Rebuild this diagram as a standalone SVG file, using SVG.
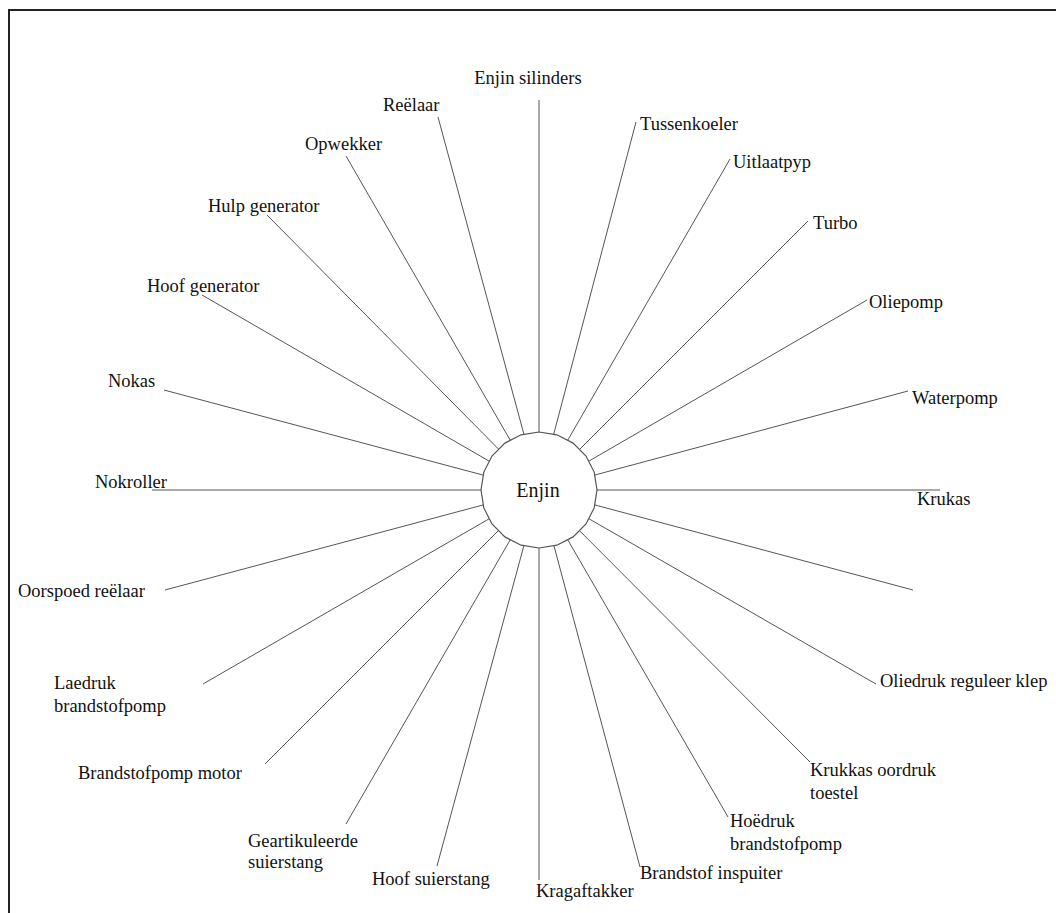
<svg xmlns="http://www.w3.org/2000/svg" width="1056" height="913" viewBox="0 0 1056 913">
  <style>
    .lbl { font-family: "Liberation Serif", "Times New Roman", serif; font-size: 18.5px; fill: #111; }
    .hub-lbl { font-family: "Liberation Serif", "Times New Roman", serif; font-size: 20px; fill: #111; }
    .spoke { stroke: #555; stroke-width: 1; fill: none; }
    .hub { fill: #fff; stroke: #555; stroke-width: 1.2; }
    .frame { fill: none; stroke: #222; stroke-width: 2; }
  </style>
  <rect width="1056" height="913" fill="#fff"/>
  <!-- outer frame: only top and left edges fall inside the page -->
  <rect class="frame" x="9" y="10" width="1060" height="920"/>

  <!-- 24 spokes every 15 degrees, each running from its label to the hub centre (539,490) -->
  <g id="connectors">
    <line class="spoke" x1="539" y1="100" x2="539" y2="490"/>
    <line class="spoke" x1="438" y1="117" x2="539" y2="490"/>
    <line class="spoke" x1="636" y1="122" x2="539" y2="490"/>
    <line class="spoke" x1="346" y1="156" x2="539" y2="490"/>
    <line class="spoke" x1="730" y1="159" x2="539" y2="490"/>
    <line class="spoke" x1="267" y1="215" x2="539" y2="490"/>
    <line class="spoke" x1="808" y1="221" x2="539" y2="490"/>
    <line class="spoke" x1="202" y1="295" x2="539" y2="490"/>
    <line class="spoke" x1="867" y1="300" x2="539" y2="490"/>
    <line class="spoke" x1="164" y1="390" x2="539" y2="490"/>
    <line class="spoke" x1="908" y1="391" x2="539" y2="490"/>
    <line class="spoke" x1="940" y1="490" x2="539" y2="490"/>
    <line class="spoke" x1="152" y1="490" x2="539" y2="490"/>
    <line class="spoke" x1="913" y1="590" x2="539" y2="490"/>
    <line class="spoke" x1="165" y1="590" x2="539" y2="490"/>
    <line class="spoke" x1="876" y1="684" x2="539" y2="490"/>
    <line class="spoke" x1="203" y1="684" x2="539" y2="490"/>
    <line class="spoke" x1="810" y1="762" x2="539" y2="490"/>
    <line class="spoke" x1="265" y1="764" x2="539" y2="490"/>
    <line class="spoke" x1="728" y1="817" x2="539" y2="490"/>
    <line class="spoke" x1="346" y1="824" x2="539" y2="490"/>
    <line class="spoke" x1="640" y1="867" x2="539" y2="490"/>
    <line class="spoke" x1="437" y1="866" x2="539" y2="490"/>
    <line class="spoke" x1="539" y1="880" x2="539" y2="490"/>
  </g>

  <g id="enjin">
    <polygon class="hub" points="539,432 556.9,434.8 573.1,443.1 586,456 594.2,472.1 597,490 594.2,507.9 586,524 573.1,536.9 556.9,545.2 539,548 521.1,545.2 504.9,536.9 492,524 483.8,507.9 481,490 483.8,472.1 492,456 504.9,443.1 521.1,434.8"/>
    <text class="hub-lbl" x="538" y="497" text-anchor="middle">Enjin</text>
  </g>

  <g id="enjin-silinders"><text class="lbl" x="528" y="84" text-anchor="middle">Enjin silinders</text></g>
  <g id="reelaar"><text class="lbl" x="383" y="111">Reëlaar</text></g>
  <g id="tussenkoeler"><text class="lbl" x="640" y="130">Tussenkoeler</text></g>
  <g id="opwekker"><text class="lbl" x="305" y="150">Opwekker</text></g>
  <g id="uitlaatpyp"><text class="lbl" x="733" y="168">Uitlaatpyp</text></g>
  <g id="hulp-generator"><text class="lbl" x="208" y="212">Hulp generator</text></g>
  <g id="turbo"><text class="lbl" x="813" y="229">Turbo</text></g>
  <g id="hoof-generator"><text class="lbl" x="147" y="292">Hoof generator</text></g>
  <g id="oliepomp"><text class="lbl" x="869" y="308">Oliepomp</text></g>
  <g id="nokas"><text class="lbl" x="108" y="387">Nokas</text></g>
  <g id="waterpomp"><text class="lbl" x="912" y="404">Waterpomp</text></g>
  <g id="krukas"><text class="lbl" x="917" y="505">Krukas</text></g>
  <g id="nokroller"><text class="lbl" x="95" y="488">Nokroller</text></g>
  <g id="oorspoed-reelaar"><text class="lbl" x="18" y="597">Oorspoed reëlaar</text></g>
  <g id="oliedruk-reguleer-klep"><text class="lbl" x="880" y="687">Oliedruk reguleer klep</text></g>
  <g id="laedruk-brandstofpomp"><text class="lbl" x="54" y="689">Laedruk<tspan x="54" dy="23">brandstofpomp</tspan></text></g>
  <g id="krukkas-oordruk-toestel"><text class="lbl" x="810" y="776">Krukkas oordruk<tspan x="810" dy="23">toestel</tspan></text></g>
  <g id="brandstofpomp-motor"><text class="lbl" x="78" y="779">Brandstofpomp motor</text></g>
  <g id="hoedruk-brandstofpomp"><text class="lbl" x="730" y="827">Hoëdruk<tspan x="730" dy="23">brandstofpomp</tspan></text></g>
  <g id="geartikuleerde-suierstang"><text class="lbl" x="248" y="847">Geartikuleerde<tspan x="248" dy="21">suierstang</tspan></text></g>
  <g id="brandstof-inspuiter"><text class="lbl" x="640" y="879">Brandstof inspuiter</text></g>
  <g id="hoof-suierstang"><text class="lbl" x="372" y="885">Hoof suierstang</text></g>
  <g id="kragaftakker"><text class="lbl" x="536" y="897">Kragaftakker</text></g>
</svg>
